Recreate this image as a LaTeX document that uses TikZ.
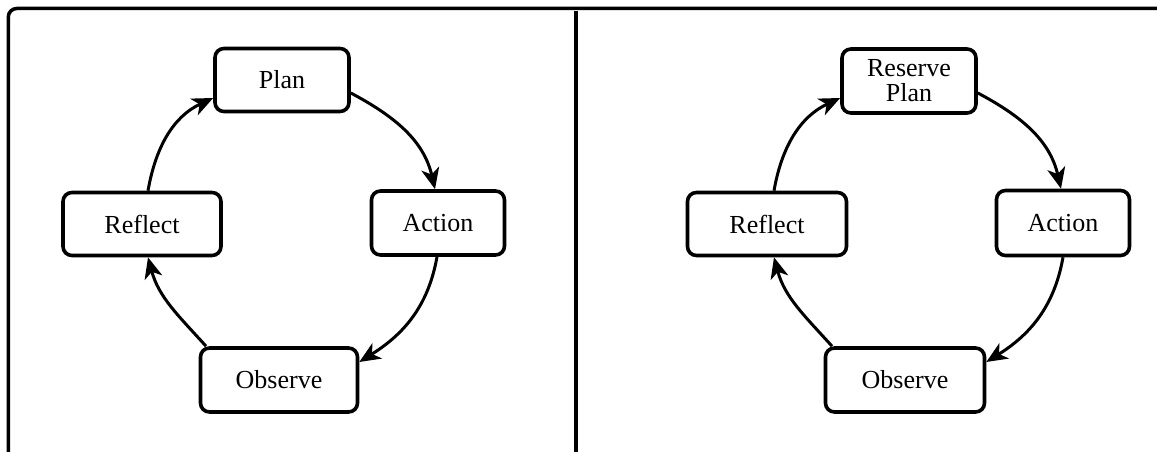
\documentclass[tikz,border=0pt]{standalone}
\usepackage{fontspec}
\setmainfont{Liberation Serif}
\usetikzlibrary{arrows.meta}
\begin{document}
\begin{tikzpicture}[x=1pt,y=1pt,
  stepbox/.style={draw, line width=3.6pt, rounded corners=9pt, align=center,
    inner sep=0pt, font=\fontsize{26}{26}\selectfont},
  flow/.style={line width=3pt, -{Stealth[length=21pt,width=18pt,inset=6pt]}},
  frame/.style={line width=3.5pt}]
\useasboundingbox (0,0) rectangle (1157,452);
% frame
\draw[frame] (8.3,0) -- (8.3,435) arc[start angle=180,end angle=90,radius=8.5] -- (1157,443.5);
\draw[frame] (576,0) -- (576,441);
% left panel
\node[stepbox, minimum width=134pt, minimum height=63pt] (plan) at (282,372) {Plan};
\node[stepbox, minimum width=133pt, minimum height=64pt] (actionL) at (438,229) {Action};
\node[stepbox, minimum width=158pt, minimum height=63pt] (reflectL) at (142,228) {Reflect};
\node[stepbox, minimum width=157pt, minimum height=64pt] (observeL) at (279,72) {Observe};
\draw[flow] (plan.east |- 0,359) to[out=-28,in=103] (actionL.north -| 435,0);
\draw[flow] (actionL.south -| 437,0) to[out=-100,in=32] (observeL.east |- 0,90);
\draw[flow] (observeL.north -| 206,0) to[out=132,in=-75] (reflectL.south -| 148,0);
\draw[flow] (reflectL.north -| 148,0) to[out=80,in=205] (plan.west |- 0,354);
% right panel
\node[stepbox, minimum width=134pt, minimum height=64pt] (rplan) at (909,371) {Reserve\\[-1pt]Plan};
\node[stepbox, minimum width=133pt, minimum height=65pt] (actionR) at (1063,229) {Action};
\node[stepbox, minimum width=159pt, minimum height=63pt] (reflectR) at (767,228) {Reflect};
\node[stepbox, minimum width=159pt, minimum height=64pt] (observeR) at (905,72) {Observe};
\draw[flow] (rplan.east |- 0,359) to[out=-28,in=103] (actionR.north -| 1061,0);
\draw[flow] (actionR.south -| 1063,0) to[out=-100,in=32] (observeR.east |- 0,90);
\draw[flow] (observeR.north -| 832,0) to[out=132,in=-75] (reflectR.south -| 774,0);
\draw[flow] (reflectR.north -| 774,0) to[out=80,in=205] (rplan.west |- 0,354);
\end{tikzpicture}
\end{document}
